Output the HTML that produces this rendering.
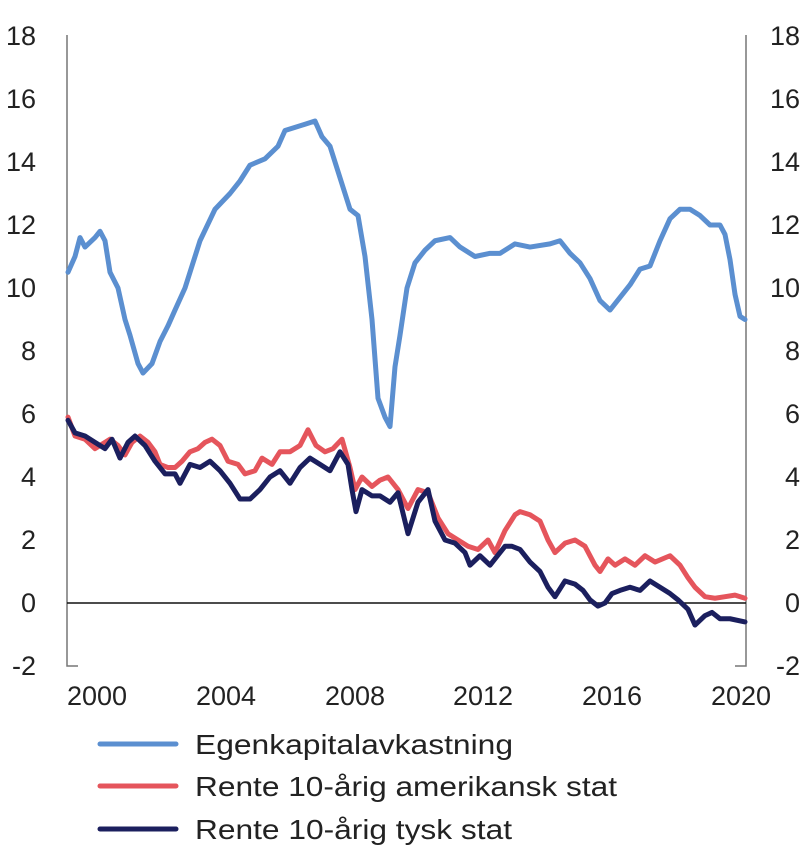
<!DOCTYPE html>
<html><head><meta charset="utf-8"><style>body{margin:0;background:#fff}svg{display:block}text{font-family:"Liberation Sans",sans-serif;fill:#222}</style></head>
<body>
<svg width="800" height="862" viewBox="0 0 800 862">
<g font-size="27">
<g text-anchor="end">
<text x="36" y="45">18</text><text x="36" y="108">16</text><text x="36" y="171">14</text><text x="36" y="234">12</text><text x="36" y="297">10</text><text x="36" y="360">8</text><text x="36" y="423">6</text><text x="36" y="486">4</text><text x="36" y="549">2</text><text x="36" y="612">0</text><text x="36" y="675">-2</text>
</g>
<g text-anchor="end">
<text x="800" y="45">18</text><text x="800" y="108">16</text><text x="800" y="171">14</text><text x="800" y="234">12</text><text x="800" y="297">10</text><text x="800" y="360">8</text><text x="800" y="423">6</text><text x="800" y="486">4</text><text x="800" y="549">2</text><text x="800" y="612">0</text><text x="800" y="675">-2</text>
</g>
<g text-anchor="middle">
<text x="97" y="705">2000</text><text x="226" y="705">2004</text><text x="355" y="705">2008</text><text x="483" y="705">2012</text><text x="612" y="705">2016</text><text x="741" y="705">2020</text>
</g>
</g>
<g stroke="#777" stroke-width="1.5" fill="none">
<polyline points="67,35 67,666 78,666"/>
<polyline points="746,35 746,666 735,666"/>
</g>
<line x1="67" y1="603" x2="746" y2="603" stroke="#111" stroke-width="1.5"/>
<g transform="translate(0,603) scale(1,-31.5)" fill="none" stroke-width="5" stroke-linejoin="round" stroke-linecap="round">
<polyline vector-effect="non-scaling-stroke" stroke="#5b8fd0" points="68,10.5 75,11 80,11.6 85,11.3 95,11.6 100,11.8 105,11.5 110,10.5 118,10 125,9 130,8.5 138,7.6 143,7.3 152,7.6 160,8.3 168,8.8 175,9.3 185,10 200,11.5 215,12.5 230,13 240,13.4 250,13.9 265,14.1 278,14.5 285,15.0 295,15.1 305,15.2 315,15.3 322,14.8 330,14.5 340,13.5 350,12.5 358,12.3 365,11 372,9 378,6.5 385,5.9 390,5.6 395,7.5 400,8.5 407,10 415,10.8 425,11.2 435,11.5 450,11.6 460,11.3 475,11.0 490,11.1 500,11.1 515,11.4 530,11.3 550,11.4 560,11.5 570,11.1 580,10.8 590,10.3 600,9.6 610,9.3 620,9.7 630,10.1 640,10.6 650,10.7 660,11.5 670,12.2 680,12.5 690,12.5 700,12.3 710,12.0 720,12.0 725,11.7 730,10.9 735,9.8 740,9.1 745,9.0"/>
<polyline vector-effect="non-scaling-stroke" stroke="#e5555c" points="68,5.9 75,5.3 85,5.2 95,4.9 105,5.1 110,5.2 118,5.0 125,4.7 132,5.1 140,5.3 148,5.1 155,4.8 160,4.4 168,4.3 175,4.3 182,4.5 190,4.8 198,4.9 205,5.1 212,5.2 220,5.0 228,4.5 238,4.4 245,4.1 255,4.2 262,4.6 272,4.4 280,4.8 290,4.8 300,5.0 308,5.5 316,5.0 325,4.8 333,4.9 342,5.2 350,4.3 355,3.6 362,4.0 372,3.7 380,3.9 388,4.0 398,3.6 408,3.0 418,3.6 428,3.5 438,2.7 448,2.2 458,2.0 468,1.8 478,1.7 488,2.0 495,1.6 505,2.3 515,2.8 520,2.9 530,2.8 540,2.6 548,2.0 555,1.6 565,1.9 575,2.0 585,1.8 595,1.2 600,1.0 608,1.4 615,1.2 625,1.4 635,1.2 645,1.5 655,1.3 670,1.5 680,1.2 688,0.8 695,0.5 705,0.2 715,0.15 725,0.2 735,0.25 745,0.15"/>
<polyline vector-effect="non-scaling-stroke" stroke="#1b1f5e" points="68,5.8 75,5.4 85,5.3 95,5.1 105,4.9 112,5.2 120,4.6 128,5.1 135,5.3 145,5.0 155,4.5 165,4.1 175,4.1 180,3.8 190,4.4 200,4.3 210,4.5 220,4.2 230,3.8 240,3.3 250,3.3 260,3.6 270,4.0 280,4.2 290,3.8 300,4.3 310,4.6 320,4.4 330,4.2 340,4.8 348,4.4 352,3.6 356,2.9 362,3.6 372,3.4 380,3.4 390,3.2 398,3.5 408,2.2 418,3.2 428,3.6 435,2.6 445,2.0 455,1.9 465,1.6 470,1.2 480,1.5 490,1.2 500,1.6 505,1.8 512,1.8 520,1.7 530,1.3 540,1.0 548,0.5 555,0.2 565,0.7 575,0.6 583,0.4 590,0.1 598,-0.1 605,0.0 612,0.3 620,0.4 630,0.5 640,0.4 650,0.7 660,0.5 670,0.3 678,0.1 688,-0.2 695,-0.7 705,-0.4 712,-0.3 720,-0.5 730,-0.5 745,-0.6"/>
</g>
<g stroke-width="5" stroke-linecap="round">
<line x1="100" y1="744" x2="176" y2="744" stroke="#5b8fd0"/>
<line x1="100" y1="786" x2="176" y2="786" stroke="#e5555c"/>
<line x1="100" y1="829" x2="176" y2="829" stroke="#1b1f5e"/>
</g>
<g font-size="28">
<text x="195" y="754" textLength="318" lengthAdjust="spacingAndGlyphs">Egenkapitalavkastning</text>
<text x="195" y="796" textLength="422" lengthAdjust="spacingAndGlyphs">Rente 10-årig amerikansk stat</text>
<text x="195" y="839" textLength="317" lengthAdjust="spacingAndGlyphs">Rente 10-årig tysk stat</text>
</g>
</svg>
</body></html>
